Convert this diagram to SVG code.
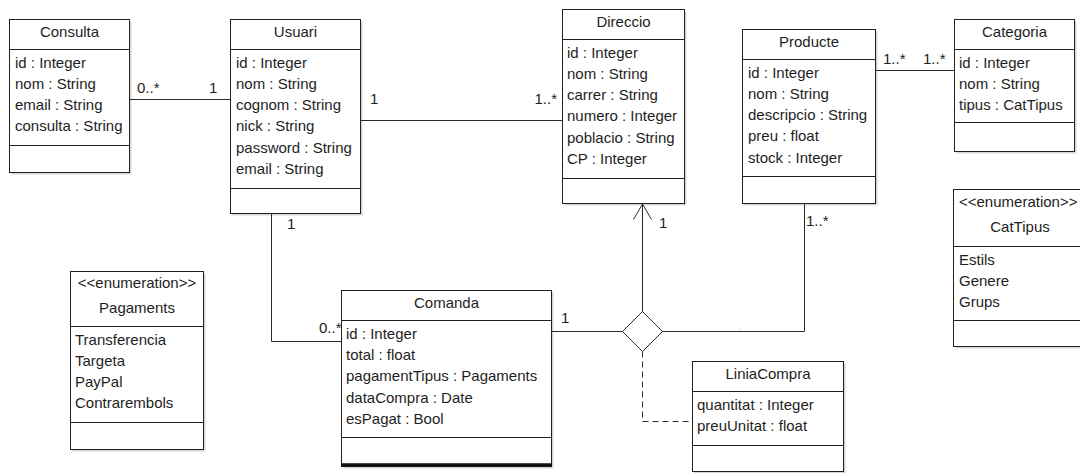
<svg xmlns="http://www.w3.org/2000/svg" width="1080" height="473" viewBox="0 0 1080 473">
  <style>
    text { font-family: "Liberation Sans", Arial, sans-serif; font-size: 15px; fill: #1e1e1e; }
    .title { text-anchor: middle; }
    .stereo { font-size: 15px; }
    .box { fill: #ffffff; stroke: #202020; stroke-width: 1; }
    .shadow { fill: #d6d6d6; }
    .sep { stroke: #202020; stroke-width: 1; fill: none; }
    .conn { stroke: #2a2a2a; stroke-width: 1; fill: none; }
    .dash { stroke: #2a2a2a; stroke-width: 1; fill: none; stroke-dasharray: 6 4; }
  </style>

  <!-- Consulta -->
  <g id="consulta">
    <rect class="shadow" x="11.5" y="21.5" width="120" height="153"/>
    <rect class="box" x="9.5" y="19.5" width="120" height="153"/>
    <path class="sep" d="M9.5 49.5H129.5M9.5 145.5H129.5"/>
    <text class="title" x="69.5" y="36.5">Consulta</text>
    <text x="15" y="67.5">id : Integer</text>
    <text x="15" y="88.8">nom : String</text>
    <text x="15" y="110.1">email : String</text>
    <text x="15" y="131.4">consulta : String</text>
  </g>

  <!-- Usuari -->
  <g id="usuari">
    <rect class="shadow" x="232.5" y="21.5" width="130" height="194"/>
    <rect class="box" x="230.5" y="19.5" width="130" height="194"/>
    <path class="sep" d="M230.5 49.5H360.5M230.5 188.5H360.5"/>
    <text class="title" x="295.5" y="36.5">Usuari</text>
    <text x="236" y="67.5">id : Integer</text>
    <text x="236" y="88.8">nom : String</text>
    <text x="236" y="110.1">cognom : String</text>
    <text x="236" y="131.4">nick : String</text>
    <text x="236" y="152.7">password : String</text>
    <text x="236" y="174">email : String</text>
  </g>

  <!-- Direccio -->
  <g id="direccio">
    <rect class="shadow" x="564.5" y="11.5" width="122" height="194"/>
    <rect class="box" x="562.5" y="9.5" width="122" height="194"/>
    <path class="sep" d="M562.5 39.5H684.5M562.5 178.5H684.5"/>
    <text class="title" x="623.5" y="26.5">Direccio</text>
    <text x="567" y="57.5">id : Integer</text>
    <text x="567" y="78.8">nom : String</text>
    <text x="567" y="100.1">carrer : String</text>
    <text x="567" y="121.4">numero : Integer</text>
    <text x="567" y="142.7">poblacio : String</text>
    <text x="567" y="164">CP : Integer</text>
  </g>

  <!-- Producte -->
  <g id="producte">
    <rect class="shadow" x="744.5" y="31.5" width="133" height="174"/>
    <rect class="box" x="742.5" y="29.5" width="133" height="174"/>
    <path class="sep" d="M742.5 59.5H875.5M742.5 176.5H875.5"/>
    <text class="title" x="809" y="46.5">Producte</text>
    <text x="748" y="77.5">id : Integer</text>
    <text x="748" y="98.8">nom : String</text>
    <text x="748" y="120.1">descripcio : String</text>
    <text x="748" y="141.4">preu : float</text>
    <text x="748" y="162.7">stock : Integer</text>
  </g>

  <!-- Categoria -->
  <g id="categoria">
    <rect class="shadow" x="956.5" y="21.5" width="120" height="132"/>
    <rect class="box" x="954.5" y="19.5" width="120" height="132"/>
    <path class="sep" d="M954.5 49.5H1074.5M954.5 122.5H1074.5"/>
    <text class="title" x="1014.5" y="36.5">Categoria</text>
    <text x="959" y="67.5">id : Integer</text>
    <text x="959" y="88.8">nom : String</text>
    <text x="959" y="110.1">tipus : CatTipus</text>
  </g>

  <!-- CatTipus enumeration -->
  <g id="cattipus">
    <rect class="shadow" x="955.5" y="191.5" width="133" height="157"/>
    <rect class="box" x="953.5" y="189.5" width="133" height="157"/>
    <path class="sep" d="M953.5 246.5H1086.5M953.5 320.5H1086.5"/>
    <text class="stereo" x="959" y="206.5">&lt;&lt;enumeration&gt;&gt;</text>
    <text class="title" x="1020" y="231.5">CatTipus</text>
    <text x="959" y="264.5">Estils</text>
    <text x="959" y="285.8">Genere</text>
    <text x="959" y="307.1">Grups</text>
  </g>

  <!-- Pagaments enumeration -->
  <g id="pagaments">
    <rect class="shadow" x="72.5" y="273.5" width="133" height="178"/>
    <rect class="box" x="70.5" y="271.5" width="133" height="178"/>
    <path class="sep" d="M70.5 326.5H203.5M70.5 422.5H203.5"/>
    <text class="stereo title" x="137" y="287.5">&lt;&lt;enumeration&gt;&gt;</text>
    <text class="title" x="137" y="313">Pagaments</text>
    <text x="75" y="344.5">Transferencia</text>
    <text x="75" y="365.8">Targeta</text>
    <text x="75" y="387.1">PayPal</text>
    <text x="75" y="408.4">Contrarembols</text>
  </g>

  <!-- Comanda -->
  <g id="comanda">
    <rect class="shadow" x="343.5" y="292.5" width="210" height="176"/>
    <rect class="box" x="341.5" y="290.5" width="210" height="176"/>
    <path class="sep" d="M341.5 320.5H551.5M341.5 437.5H551.5"/>
    <path d="M341.5 465H551.5" stroke="#111111" stroke-width="3.5" fill="none"/>
    <text class="title" x="446.5" y="308">Comanda</text>
    <text x="346" y="338.7">id : Integer</text>
    <text x="346" y="360">total : float</text>
    <text x="346" y="381.3">pagamentTipus : Pagaments</text>
    <text x="346" y="402.6">dataCompra : Date</text>
    <text x="346" y="423.9">esPagat : Bool</text>
  </g>

  <!-- LiniaCompra (association class) -->
  <g id="liniacompra">
    <rect class="shadow" x="694.5" y="363.5" width="151" height="110"/>
    <rect class="box" x="692.5" y="361.5" width="151" height="110"/>
    <path class="sep" d="M692.5 391.5H843.5M692.5 445.5H843.5"/>
    <text class="title" x="768" y="378.5">LiniaCompra</text>
    <text x="697" y="409.5">quantitat : Integer</text>
    <text x="697" y="430.8">preuUnitat : float</text>
  </g>

  <!-- Associations -->
  <g id="connectors">
    <path class="conn" d="M129.5 99.5H230.5"/>
    <path class="conn" d="M360.5 120.5H562.5"/>
    <path class="conn" d="M875.5 70.5H954.5"/>
    <path class="conn" d="M271.5 213.5V341.5H341.5"/>
    <path class="conn" d="M551.5 331.5H622.5"/>
    <path class="conn" d="M642.5 311.5V204"/>
    <path class="conn" d="M633.5 219.5L642.5 204L651.5 219.5"/>
    <path class="conn" d="M662.5 331.5H804.5V203.5"/>
    <polygon class="conn" fill="#ffffff" points="642.5,311.5 662.5,331.5 642.5,351.5 622.5,331.5"/>
    <path class="dash" d="M642.5 351.5V421.5H692.5"/>

    <text x="137" y="93">0..*</text>
    <text x="209" y="93">1</text>
    <text x="370" y="104">1</text>
    <text x="557" y="104" text-anchor="end">1..*</text>
    <text x="883" y="64">1..*</text>
    <text x="923" y="64">1..*</text>
    <text x="287" y="229">1</text>
    <text x="319" y="333">0..*</text>
    <text x="561" y="323">1</text>
    <text x="659" y="228">1</text>
    <text x="806" y="226">1..*</text>
    <text x="739" y="330" style="font-size:8px; fill:#777777">.</text>
  </g>
</svg>
